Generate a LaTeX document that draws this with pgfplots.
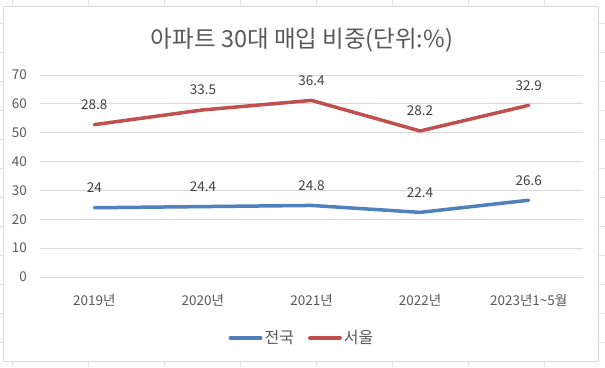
\documentclass[border=0pt]{standalone}
\usepackage{pgfplots}
\pgfplotsset{compat=1.18}
\usepackage{fontspec}
\setmainfont{Noto Sans CJK KR}
\definecolor{sblue}{HTML}{4F81BD}
\definecolor{sred}{HTML}{C0504D}
\definecolor{gridc}{HTML}{D9D9D9}
\definecolor{cellc}{HTML}{E3E3E3}
\definecolor{txt}{HTML}{595959}
\definecolor{lab}{HTML}{404040}
\begin{document}
\begin{tikzpicture}[x=1pt,y=1pt]
\useasboundingbox (0,0) rectangle (605,367);
\fill[white] (0,0) rectangle (605,367);
\begin{scope}[draw=cellc, line width=0.6pt]
\foreach \x in {12,88,...,600} \draw (\x,0)--(\x,367);
\foreach \y in {344,315,...,0} \draw (0,\y)--(605,\y);
\end{scope}
\filldraw[fill=white, draw=gridc, line width=0.75pt] (3,6) rectangle (598,361);
\node[font=\fontsize{23.5}{28}\selectfont, text=txt] at (302,327) {아파트 30대 매입 비중(단위:\%)};
\begin{axis}[at={(40pt,90pt)}, anchor=south west, width=543pt, height=202pt, scale only axis,
  xmin=-0.5, xmax=4.5, ymin=0, ymax=70, ytick={0,10,...,70}, xtick={0,...,4},
  xticklabels={2019년,2020년,2021년,2022년,2023년1\textasciitilde5월},
  ymajorgrids, grid style={gridc, line width=0.75pt},
  axis line style={draw=none}, major tick length=0pt,
  tick label style={font=\fontsize{13.5}{16}\selectfont, text=txt},
  xticklabel style={anchor=center, yshift=-23pt},
  yticklabel style={anchor=east, inner sep=0pt, xshift=-13pt},
  /pgf/number format/assume math mode=true,
  stack plots=y,
  clip=false,
  legend style={at={(0.4825,-0.302)}, anchor=center, draw=none, fill=none,
    legend columns=2, font=\fontsize{16}{19}\selectfont, text=txt,
    /tikz/every even column/.append style={column sep=12pt}},
  legend image code/.code={\draw[#1, line width=4pt, line cap=round] (0pt,0pt) -- (30pt,0pt);},
  every node near coord/.append style={font=\fontsize{13.5}{16}\selectfont, text=lab, anchor=center, yshift=20pt, inner sep=0pt},
]
\addplot[sblue, line width=3.5pt, line cap=round, line join=round, point meta=explicit symbolic, nodes near coords]
  coordinates {(0,24)[24] (1,24.4)[24.4] (2,24.8)[24.8] (3,22.4)[22.4] (4,26.6)[26.6]};
\addlegendentry{전국}
\addplot[sred, line width=3.5pt, line cap=round, line join=round, point meta=explicit symbolic, nodes near coords]
  coordinates {(0,28.8)[28.8] (1,33.5)[33.5] (2,36.4)[36.4] (3,28.2)[28.2] (4,32.9)[32.9]};
\addlegendentry{서울}
\end{axis}
\end{tikzpicture}
\end{document}
